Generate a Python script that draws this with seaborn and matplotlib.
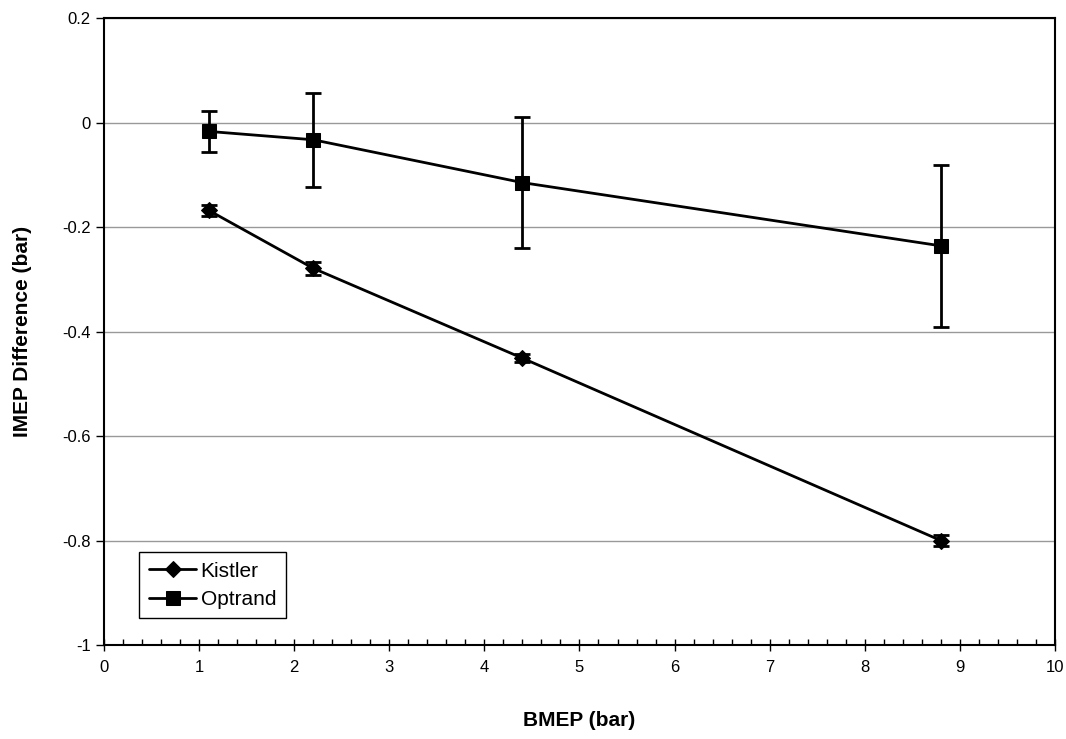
import numpy as np
import pandas as pd
import matplotlib
matplotlib.use('Agg')
import matplotlib.pyplot as plt
import matplotlib.ticker as mtick
import seaborn as sns

# values
bmep = [1.1, 2.2, 4.4, 8.8]
kistler = [-0.168, -0.279, -0.451, -0.800]
kistler_err = [0.010, 0.012, 0.008, 0.010]
optrand = [-0.017, -0.033, -0.115, -0.236]
optrand_err = [0.040, 0.090, 0.125, 0.155]
series = ['Kistler', 'Optrand']
x_ticks = list(range(0, 11))
y_ticks = [-1, -0.8, -0.6, -0.4, -0.2, 0, 0.2]

df = pd.DataFrame({
    'BMEP': bmep * 2,
    'diff': kistler + optrand,
    'err': kistler_err + optrand_err,
    'sensor': [series[0]] * len(bmep) + [series[1]] * len(bmep),
})

sns.set_theme(style='white')
plt.rcParams['font.family'] = ['Liberation Sans', 'DejaVu Sans']
plt.rcParams['text.color'] = 'black'
plt.rcParams['axes.labelcolor'] = 'black'
plt.rcParams['xtick.color'] = 'black'
plt.rcParams['ytick.color'] = 'black'

fig = plt.figure(figsize=(10.66, 7.39), dpi=100)
ax = fig.add_axes([0.0976, 0.1272, 0.892, 0.8484])

# error bars first so lines and markers sit on top
for name in series:
    sub = df[df['sensor'] == name]
    ax.errorbar(sub['BMEP'], sub['diff'], yerr=sub['err'], fmt='none',
                ecolor='black', elinewidth=2, capsize=6, capthick=2, zorder=3)

sns.lineplot(data=df, x='BMEP', y='diff', hue='sensor', style='sensor',
             markers={'Kistler': 'D', 'Optrand': 's'}, dashes=False,
             palette={'Kistler': 'black', 'Optrand': 'black'},
             markeredgecolor='black', linewidth=2,
             ax=ax, zorder=4)
for ln in ax.get_lines():
    if ln.get_marker() == 'D':
        ln.set_markersize(8)
    elif ln.get_marker() == 's':
        ln.set_markersize(10)

ax.set_xlim(0, 10)
ax.set_ylim(-1, 0.2)
ax.set_xticks(x_ticks)
ax.set_yticks(y_ticks)
ax.set_yticklabels(['-1', '-0.8', '-0.6', '-0.4', '-0.2', '0', '0.2'])
ax.xaxis.set_minor_locator(mtick.MultipleLocator(0.2))

ax.yaxis.grid(True, color='#999999', linewidth=1)
ax.set_axisbelow(True)
for sp in ax.spines.values():
    sp.set_color('black')
    sp.set_linewidth(1.5)

ax.tick_params(axis='x', which='major', direction='inout', length=9, width=1,
               color='black', labelcolor='black', labelsize=12, pad=6, bottom=True)
ax.tick_params(axis='x', which='minor', direction='in', length=4, width=1,
               color='black', bottom=True)
ax.tick_params(axis='y', which='major', direction='out', length=6, width=1,
               color='black', labelcolor='black', labelsize=12, left=True)

ax.set_xlabel('BMEP (bar)', fontsize=15, fontweight='bold', labelpad=26, color='black')
ax.set_ylabel('IMEP Difference (bar)', fontsize=15, fontweight='bold', labelpad=22,
              color='black')

handles, labels = ax.get_legend_handles_labels()
leg = ax.legend(handles, labels, loc='lower left', bbox_to_anchor=(0.026, 0.026),
                fontsize=15, frameon=True, fancybox=False, edgecolor='black',
                framealpha=1, handlelength=2.3, borderpad=0.45,
                labelspacing=0.45, handletextpad=0.2)
leg.get_frame().set_linewidth(1)
for t in leg.get_texts():
    t.set_color('black')

fig.savefig('out.png', dpi=100)
